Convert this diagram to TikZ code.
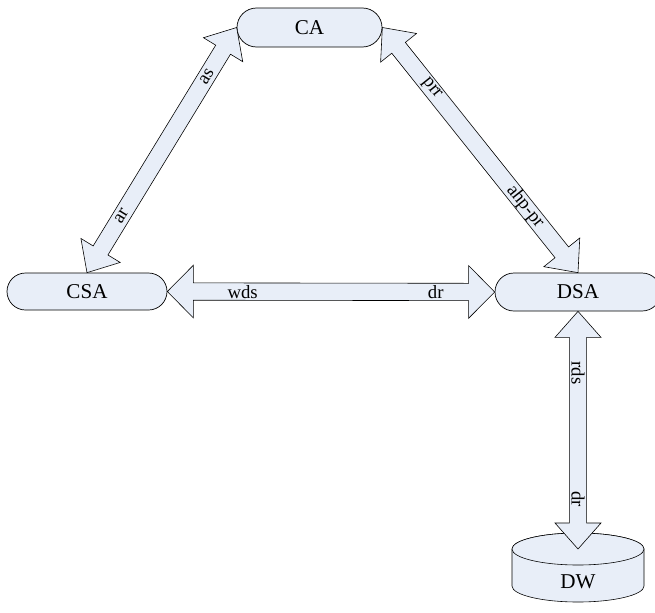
\documentclass[tikz,border=0pt]{standalone}
\usepackage{fontspec}
\setmainfont{Liberation Serif}
\usetikzlibrary{shapes.misc,calc}
\definecolor{boxblue}{RGB}{232,238,248}
\tikzset{
  agent/.style={rounded rectangle,draw,fill=boxblue,line width=0.6pt,
    inner sep=0pt,font=\fontsize{18}{21}\selectfont},
  fat/.style={draw,fill=boxblue,line width=0.5pt,line join=miter},
  lbl/.style={font=\fontsize{16}{19}\selectfont,inner sep=0pt}
}
\newcommand{\headlen}{0.78cm}
\newcommand{\shafthalf}{0.26cm}
% block arrow with a head at both ends
\newcommand{\dblarrow}[3][0.69cm]{%
  \draw[fat] (#2)
    -- ($(#2)!\headlen!(#3)!#1!90:(#3)$)
    -- ($(#2)!\headlen!(#3)!\shafthalf!90:(#3)$)
    -- ($(#3)!\headlen!(#2)!\shafthalf!-90:(#2)$)
    -- ($(#3)!\headlen!(#2)!#1!-90:(#2)$)
    -- (#3)
    -- ($(#3)!\headlen!(#2)!#1!90:(#2)$)
    -- ($(#3)!\headlen!(#2)!\shafthalf!90:(#2)$)
    -- ($(#2)!\headlen!(#3)!\shafthalf!-90:(#3)$)
    -- ($(#2)!\headlen!(#3)!#1!-90:(#3)$)
    -- cycle;}
\begin{document}
\begin{tikzpicture}[x=0.03cm,y=-0.03cm,line cap=round]
  \useasboundingbox (0,0) rectangle (655,612);

  % agents
  \node[agent,minimum width=4.35cm,minimum height=1.17cm] (CA) at (309.5,27.5) {CA};
  \node[agent,minimum width=4.8cm,minimum height=1.11cm] (CSA) at (87,291.5) {CSA};
  \node[agent,minimum width=4.98cm,minimum height=1.14cm] (DSA) at (578,292) {DSA};

  % warehouse
  \draw[fat] (512,549) -- (512,586) arc[start angle=180,end angle=0,x radius=66,y radius=16]
    -- (644,549) arc[start angle=0,end angle=-180,x radius=66,y radius=16] -- cycle;
  \draw[fat] (578,549) ellipse [x radius=66,y radius=16];
  \node[font=\fontsize{18}{21}\selectfont,inner sep=0pt] (DW) at (578,582) {DW};
  \coordinate (dwlid) at (578,549);

  % links
  \dblarrow{CSA.north}{CA.west}
  \dblarrow{CA.east}{DSA.north}
  \dblarrow[0.79cm]{CSA.east}{DSA.west}
  \dblarrow{DSA.south}{dwlid}

  \path (CSA.north) -- (CA.west)
    node[lbl,sloped,pos=0.23] {ar} node[lbl,sloped,pos=0.8] {as};
  \path (CA.east) -- (DSA.north)
    node[lbl,sloped,pos=0.25] {prr} node[lbl,sloped,pos=0.73] {ahp-pr};
  \path (CSA.east) -- (DSA.west)
    node[lbl,pos=0.23] {wds} node[lbl,pos=0.82] {dr};
  \path (DSA.south) -- (dwlid)
    node[lbl,rotate=-90,pos=0.26] {rds} node[lbl,rotate=-90,pos=0.79] {dr};

\end{tikzpicture}
\end{document}
